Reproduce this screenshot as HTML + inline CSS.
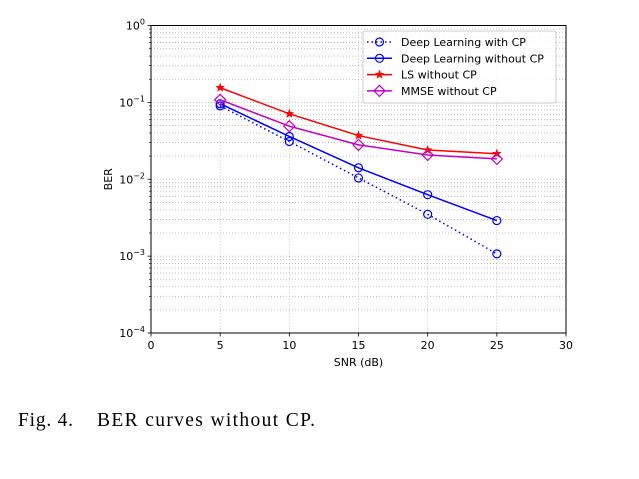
<!DOCTYPE html>
<html><head><meta charset="utf-8"><style>
body{margin:0;background:#fff;width:639px;height:479px;overflow:hidden}
svg{display:block}
</style></head><body>
<svg id="chart" width="639" height="479" xmlns="http://www.w3.org/2000/svg" font-family="DejaVu Sans, Liberation Sans, sans-serif">
<g id="grid"></g>
<g id="axes"></g>
<g id="series"></g>
<g id="legend"></g>
<g font-family="Liberation Serif, serif" font-size="19.5" fill="#000">
<text x="18" y="426" textLength="55" lengthAdjust="spacing">Fig. 4.</text>
<text x="97" y="426" textLength="218" lengthAdjust="spacing">BER curves without CP.</text>
</g>
</svg>
<script>
const snr = [5, 10, 15, 20, 25];
const dlWithCP = [0.090, 0.031, 0.0104, 0.0035, 0.00107];
const dlWithoutCP = [0.096, 0.036, 0.0141, 0.0063, 0.0029];
const lsWithoutCP = [0.155, 0.071, 0.037, 0.024, 0.0215];
const mmseWithoutCP = [0.108, 0.049, 0.028, 0.0207, 0.0184];
const xTicks = [0, 5, 10, 15, 20, 25, 30];
const yExps = [0, -1, -2, -3, -4];
const legendLabels = ["Deep Learning with CP", "Deep Learning without CP", "LS without CP", "MMSE without CP"];

const NS = "http://www.w3.org/2000/svg";
const L = 151, R = 566, T = 25.5, B = 333;
const xs = v => L + (v - 0) / 30 * (R - L);
const ys = v => T + (0 - Math.log10(v)) / 4 * (B - T);
function mk(tag, attrs, parent) {
  const e = document.createElementNS(NS, tag);
  for (const k in attrs) e.setAttribute(k, attrs[k]);
  parent.appendChild(e); return e;
}
const grid = document.getElementById('grid'), axes = document.getElementById('axes'),
      ser = document.getElementById('series'), leg = document.getElementById('legend');
xTicks.forEach(t => {
  const g = mk('line', {x1: xs(t), x2: xs(t), y1: T, y2: B, stroke: '#b0b0b0', 'stroke-width': 0.8, 'stroke-dasharray': '1,2'}, grid);
  
  
});
for (let e = -4; e < 0; e++) {
  for (let m = 1; m < 10; m++) {
    const v = m * Math.pow(10, e);
    const g = mk('line', {x1: L, x2: R, y1: ys(v), y2: ys(v), stroke: '#b0b0b0', 'stroke-width': 0.8, 'stroke-dasharray': '1,2'}, grid);
    
    
    if (m > 1) {
      const tk = mk('line', {x1: L - 2, x2: L, y1: ys(v), y2: ys(v), stroke: '#000', 'stroke-width': 0.6}, axes);
      
      
    }
  }
}
const fr = mk('rect', {x: L, y: T, width: R - L, height: B - T, fill: 'none', stroke: '#000', 'stroke-width': 1}, axes);


xTicks.forEach(t => {
  const tk = mk('line', {x1: xs(t), x2: xs(t), y1: B, y2: B + 3.5, stroke: '#000', 'stroke-width': 0.8}, axes);
  
  
  const tl = mk('text', {x: xs(t), y: B + 16, 'font-size': 11, 'text-anchor': 'middle', fill: '#000'}, axes);
  tl.textContent = t;
  
  
});
yExps.forEach(e => {
  const y = ys(Math.pow(10, e));
  const tk = mk('line', {x1: L - 3.5, x2: L, y1: y, y2: y, stroke: '#000', 'stroke-width': 0.8}, axes);
  
  
  const tl = mk('text', {x: L - 6, y: y + 4, 'font-size': 11, 'text-anchor': 'end', fill: '#000'}, axes);
  tl.innerHTML = '10<tspan dy="-5" font-size="8">' + (e === 0 ? '0' : '\u2212' + (-e)) + '</tspan>';
  
  
});
const xt = mk('text', {x: (L + R) / 2, y: 366, 'font-size': 11, 'text-anchor': 'middle'}, axes);
xt.textContent = 'SNR (dB)';


const yt = mk('text', {x: 112, y: (T + B) / 2, 'font-size': 11, 'text-anchor': 'middle', transform: `rotate(-90 112 ${(T + B) / 2})`}, axes);
yt.textContent = 'BER';



function marker(type, x, y, color, parent) {
  let m;
  if (type === 'o') m = mk('circle', {cx: x, cy: y, r: 4, fill: 'none', stroke: color, 'stroke-width': 1.2}, parent);
  else if (type === 'd') m = mk('polygon', {points: `${x},${y - 5.5} ${x + 5.5},${y} ${x},${y + 5.5} ${x - 5.5},${y}`, fill: 'none', stroke: color, 'stroke-width': 1.2}, parent);
  else {
    let p = [];
    for (let i = 0; i < 10; i++) { const r = i % 2 ? 1.8 : 4.5, a = -Math.PI / 2 + i * Math.PI / 5; p.push((x + r * Math.cos(a)).toFixed(2) + ',' + (y + r * Math.sin(a)).toFixed(2)); }
    m = mk('polygon', {points: p.join(' '), fill: color, stroke: color, 'stroke-width': 0.5}, parent);
  }
  return m;
}
const seriesDefs = [
  {vals: dlWithCP, color: '#0000ff', dash: '1.5,3', m: 'o', name: 'dl-with-cp'},
  {vals: dlWithoutCP, color: '#0000ff', dash: '', m: 'o', name: 'dl-without-cp'},
  {vals: lsWithoutCP, color: '#ff0000', dash: '', m: '*', name: 'ls-without-cp'},
  {vals: mmseWithoutCP, color: '#c000c0', dash: '', m: 'd', name: 'mmse-without-cp'}
];
seriesDefs.forEach(s => {
  const g = mk('g', {}, ser);
  
  
  const pl = mk('polyline', {points: snr.map((x, i) => xs(x) + ',' + ys(s.vals[i])).join(' '), fill: 'none', stroke: s.color, 'stroke-width': 1.5, 'stroke-dasharray': s.dash}, g);
  
  
  snr.forEach((x, i) => {
    const mm = marker(s.m, xs(x), ys(s.vals[i]), s.color, g);
    
    
  });
});
const lb = mk('rect', {x: 363, y: 31, width: 193, height: 72, fill: '#fff', 'fill-opacity': 0.85, stroke: '#ccc', rx: 2}, leg);


legendLabels.forEach((lab, i) => {
  const s = seriesDefs[i], y = 42 + i * 16.3;
  const g = mk('g', {}, leg);
  
  
  mk('line', {x1: 367, x2: 392, y1: y, y2: y, stroke: s.color, 'stroke-width': 1.5, 'stroke-dasharray': s.dash}, g);
  marker(s.m, 379.5, y, s.color, g);
  const t = mk('text', {x: 401, y: y + 4, 'font-size': 11, fill: '#000'}, g);
  t.textContent = lab;
});
</script>
</body></html>
